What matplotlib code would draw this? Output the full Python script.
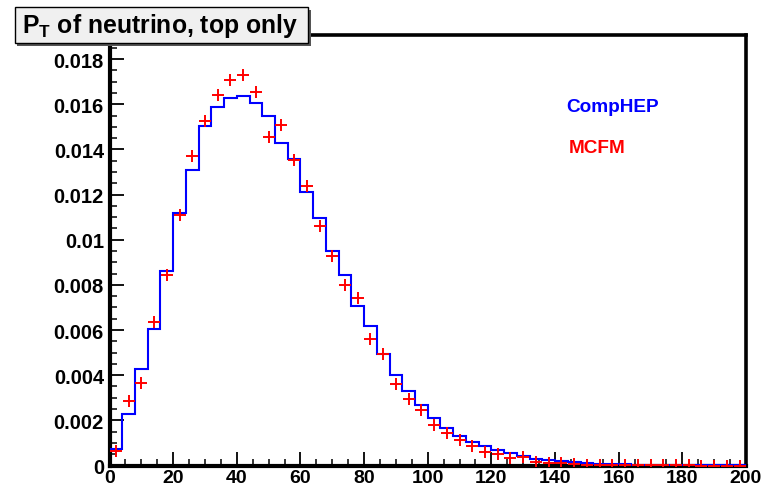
import matplotlib
matplotlib.use('Agg')
import matplotlib.pyplot as plt
from matplotlib.patches import Rectangle
from matplotlib.ticker import MultipleLocator
import numpy as np

plt.rcParams['font.family'] = ['Liberation Sans', 'DejaVu Sans']
plt.rcParams['font.weight'] = 'bold'
plt.rcParams['mathtext.fontset'] = 'custom'
plt.rcParams['mathtext.rm'] = 'Liberation Sans:bold'
plt.rcParams['mathtext.bf'] = 'Liberation Sans:bold'

# 4 GeV bins from 0 to 200
bin_edges = np.arange(0, 201, 4)
bin_centers = bin_edges[:-1] + 2

comphep = [0.00074, 0.00230, 0.00428, 0.00604, 0.00860, 0.01117, 0.01308, 0.01502,
           0.01588, 0.01626, 0.01635, 0.01606, 0.01547, 0.01430, 0.01356, 0.01211,
           0.01096, 0.00950, 0.00843, 0.00706, 0.00619, 0.00493, 0.00403, 0.00328,
           0.00269, 0.00209, 0.00164, 0.00132, 0.00105, 0.00085, 0.00068, 0.00054,
           0.00040, 0.00031, 0.00024, 0.00019, 0.00014, 0.00010, 0.00008, 0.00006,
           0.00005, 0.00004, 0.00003, 0.000025, 0.00002, 0.000015, 0.000012, 0.00001,
           0.000008, 0.000006]

mcfm = [0.00066, 0.00285, 0.00366, 0.00634, 0.00845, 0.01110, 0.01369, 0.01527,
        0.01642, 0.01708, 0.01730, 0.01653, 0.01457, 0.01506, 0.01354, 0.01236,
        0.01062, 0.00930, 0.00801, 0.00742, 0.00561, 0.00494, 0.00361, 0.00296,
        0.00248, 0.00181, 0.00145, 0.00112, 0.00085, 0.00061, 0.00052, 0.00032,
        0.00039, 0.00016, 0.00012, 0.00009, 0.00006, 0.00003, 0.00002, 0.00002,
        0.00001, 0.00001, 0.00001, 0.000005, 0.000005, 0.000005, 0.0, 0.0,
        0.0, 0.0]

x_ticks = list(range(0, 201, 20))
y_ticks = [0, 0.002, 0.004, 0.006, 0.008, 0.010, 0.012, 0.014, 0.016, 0.018]
y_tick_labels = ['0', '0.002', '0.004', '0.006', '0.008', '0.01',
                 '0.012', '0.014', '0.016', '0.018']

W, H = 767, 489
fig = plt.figure(figsize=(W / 100, H / 100), dpi=100)
fig.patch.set_facecolor('white')

# frame in pixels: left 109.5, right 746, top 35.5, bottom 466.5
ax = fig.add_axes([109.5 / W, (H - 466.5) / H, (746 - 109.5) / W, (466.5 - 35.5) / H])

ax.stairs(comphep, bin_edges, color='#0000ff', lw=1.5, baseline=None, zorder=3)
ax.plot(bin_centers, mcfm, linestyle='none', marker='+', markersize=9,
        markeredgewidth=1.4, color='#ff0000', zorder=4)

ax.set_xlim(0, 200)
ax.set_ylim(0, 0.01909)

ax.set_xticks(x_ticks)
ax.set_xticklabels([str(t) for t in x_ticks])
ax.set_yticks(y_ticks)
ax.set_yticklabels(y_tick_labels)
ax.xaxis.set_minor_locator(MultipleLocator(5))
ax.yaxis.set_minor_locator(MultipleLocator(0.0005))

ax.tick_params(which='both', direction='in', top=False, right=False, color='black')
ax.tick_params(which='major', length=10, width=1.3, labelsize=14.5, pad=4)
ax.tick_params(which='minor', length=5, width=1.1)
ax.tick_params(axis='x', which='major', pad=2.5, labelsize=14)

for side in ['left', 'bottom']:
    ax.spines[side].set_linewidth(3.0)
for side in ['right', 'top']:
    ax.spines[side].set_linewidth(2.6)
for s in ax.spines.values():
    s.set_color('black')

ax.text(0.717, 0.833, 'CompHEP', transform=ax.transAxes, color='#0000ff',
        fontsize=13.7, fontweight='bold', va='center', ha='left')
ax.text(0.722, 0.738, 'MCFM', transform=ax.transAxes, color='#ff0000',
        fontsize=13.7, fontweight='bold', va='center', ha='left')

# title box with a drop shadow, in figure pixel coordinates
def px_rect(x0, y0, x1, y1, **kw):
    return Rectangle((x0 / W, (H - y1) / H), (x1 - x0) / W, (y1 - y0) / H,
                     transform=fig.transFigure, **kw)

fig.add_artist(px_rect(17, 11, 311, 47, facecolor='#555555', edgecolor='none', zorder=5))
fig.add_artist(px_rect(14.5, 8, 308, 44, facecolor='#f0f0f0', edgecolor='black',
                       lw=1.0, zorder=6))
fig.text(22 / W, (H - 26) / H, r'$\mathbf{P_T}$ of neutrino, top only', fontsize=17.8,
         fontweight='bold', va='center', ha='left', zorder=7)

fig.savefig('out.png', dpi=100)
plt.close(fig)
